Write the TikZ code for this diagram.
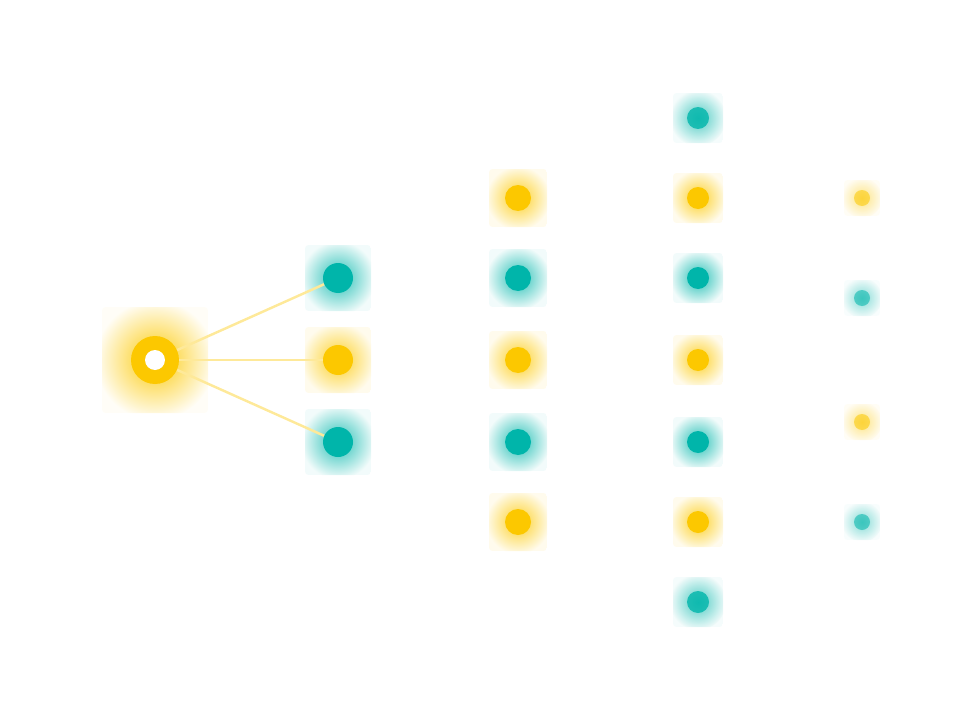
\documentclass[tikz,border=0pt]{standalone}
\usetikzlibrary{backgrounds}
\definecolor{SunYellow}{RGB}{252,200,0}
\definecolor{SeaTeal}{RGB}{0,181,170}

\begin{document}
\begin{tikzpicture}[
  x=0.02cm, y=-0.02cm,
  dot/.style={circle, inner sep=0pt, draw=none},
  dotY/.style={dot, fill=SunYellow},
  dotT/.style={dot, fill=SeaTeal},
  glowY/.style={inner color=SunYellow!85, outer color=SunYellow!7},
  glowT/.style={inner color=SeaTeal!85, outer color=SeaTeal!5},
  padY/.style={fill=SunYellow!7},
  padT/.style={fill=SeaTeal!5},
  link/.style={draw=SunYellow!40, line width=1.4pt}
]
\useasboundingbox (0,0) rectangle (960,720);

% Root with its halo.
\begin{scope}
  \clip[rounded corners=2pt] (155-53,360-53) rectangle (155+53,360+53);
  \fill[SunYellow!3] (155-53,360-53) rectangle (155+53,360+53);
  \shade[inner color=SunYellow!95, outer color=SunYellow!3] (155,360) circle (60);
\end{scope}
\node[dotY, minimum size=0.96cm] (root) at (155,360) {};
\node[dot, fill=white, minimum size=0.4cm] (hole) at (root.center) {};

% First ring.
\foreach \y/\c [count=\i] in {278/T,360/Y,442/T} {
  \begin{scope}
    \clip[rounded corners=2pt] (338-33,\y-33) rectangle (338+33,\y+33);
    \fill[pad\c] (338-33,\y-33) rectangle (338+33,\y+33);
    \shade[glow\c] (338,\y) circle (37);
  \end{scope}
  \node[dot\c, minimum size=0.6cm] (a\i) at (338,\y) {};
}

% Second ring.
\foreach \y/\c [count=\i] in {198/Y,278/T,360/Y,442/T,522/Y} {
  \begin{scope}
    \clip[rounded corners=2pt] (518-29,\y-29) rectangle (518+29,\y+29);
    \fill[pad\c] (518-29,\y-29) rectangle (518+29,\y+29);
    \shade[glow\c] (518,\y) circle (32);
  \end{scope}
  \node[dot\c, minimum size=0.52cm] (b\i) at (518,\y) {};
}

% Third ring, outer ends fading.
\foreach \y/\c/\o [count=\i] in {118/T/0.8,198/Y/1,278/T/1,360/Y/1,442/T/1,522/Y/1,602/T/0.8} {
  \begin{scope}[opacity=\o]
    \clip[rounded corners=2pt] (698-25,\y-25) rectangle (698+25,\y+25);
    \fill[pad\c] (698-25,\y-25) rectangle (698+25,\y+25);
    \shade[glow\c] (698,\y) circle (28);
  \end{scope}
  \node[dot\c, opacity=\o, minimum size=0.44cm] (c\i) at (698,\y) {};
}

% Fourth ring, faint.
\foreach \y/\c [count=\i] in {198/Y,298/T,422/Y,522/T} {
  \begin{scope}[opacity=0.55]
    \clip[rounded corners=2pt] (862-18,\y-18) rectangle (862+18,\y+18);
    \fill[pad\c] (862-18,\y-18) rectangle (862+18,\y+18);
    \shade[glow\c] (862,\y) circle (20);
  \end{scope}
  \node[dot\c, opacity=0.55, minimum size=0.32cm] (d\i) at (862,\y) {};
}

% Links from the root.
\foreach \i in {1,2,3}
  \draw[link] (root) -- (a\i);

\end{tikzpicture}
\end{document}
